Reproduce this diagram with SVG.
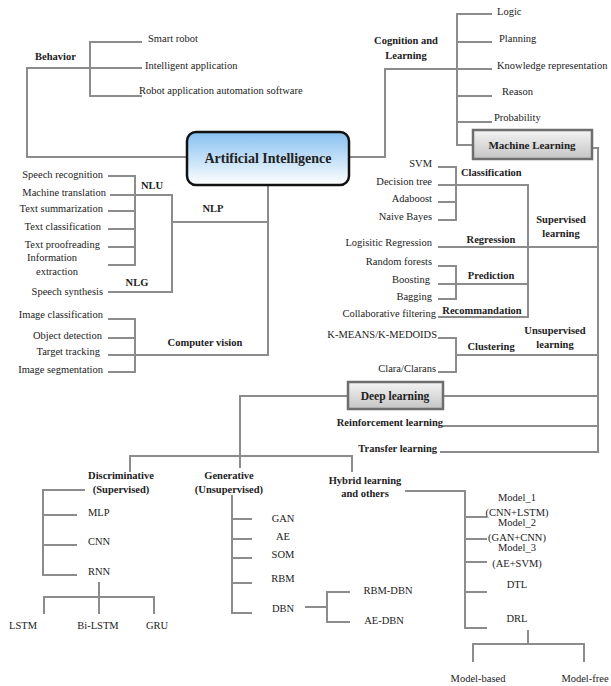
<svg xmlns="http://www.w3.org/2000/svg" width="611" height="686" viewBox="0 0 611 686">
<style>
text{font-family:"Liberation Serif","Times New Roman",serif;font-size:10.5px;fill:#222}
.b{font-weight:bold}
.m{text-anchor:middle}
.e{text-anchor:end}
.ln path{fill:none;stroke:#8c8c8c;stroke-width:2}
</style>
<defs>
<linearGradient id="ai" x1="0" y1="0" x2="0" y2="1">
<stop offset="0" stop-color="#86c0f0"/>
<stop offset="1" stop-color="#ffffff"/>
</linearGradient>
<linearGradient id="gb" x1="0" y1="0" x2="0" y2="1">
<stop offset="0" stop-color="#f4f4f4"/>
<stop offset="1" stop-color="#c4c4c4"/>
</linearGradient>
</defs>
<rect width="611" height="686" fill="#fff"/>
<g class="ln" id="connectors">
<path d="M187,157 H27 V68 H142"/>
<path d="M142,42 H90 V96 H142"/>
<path d="M349,157 H385 V69 H492"/>
<path d="M492,14 H457 V145 H475"/>
<path d="M457,42 H492 M457,96 H492 M457,122 H492"/>
<path d="M592,148 H598 V452 H440"/>
<path d="M438,247 H598"/>
<path d="M438,185 H528 V317 H438"/>
<path d="M438,284 H528"/>
<path d="M438,167 H456 V220 H438 M438,202 H456"/>
<path d="M438,266 H456 V299 H438"/>
<path d="M438,338 H456 V372 H438 M456,355 H598"/>
<path d="M443,396 H598"/>
<path d="M443,426 H598"/>
<path d="M348,396 H240 V468"/>
<path d="M130,472 V456 H352 V472"/>
<path d="M268,185 V355 H108"/>
<path d="M268,222 H172"/>
<path d="M110,195 H172 V292 H108"/>
<path d="M108,176 H135 V265 H108 M108,211 H135 M108,229 H135 M108,247 H135"/>
<path d="M108,319 H135 V372 H108 M108,338 H135"/>
<path d="M85,490 H43 V575 H77 M43,515 H77 M43,545 H77"/>
<path d="M99,582 V614 M44,614 V597 H154 V614"/>
<path d="M232,495 V613 H252 M232,519 H252 M232,539 H252 M232,558 H252 M232,583 H252"/>
<path d="M305,607 H327 M350,592 H327 V622 H350"/>
<path d="M405,491 H465 V628 H487 M465,517 H487 M465,539 H487 M465,562 H487 M465,592 H487"/>
<path d="M528,630 V644 M473,662 V644 H584 V662"/>
</g>
<g id="ai-node">
<rect x="187" y="132" width="162" height="53" rx="9" fill="url(#ai)" stroke="#111" stroke-width="2.5"/>
<text class="b m" x="268" y="163" style="font-size:14px">Artificial Intelligence</text>
</g>
<g id="behavior">
<text class="b" x="35" y="60">Behavior</text>
<text x="148" y="42">Smart robot</text>
<text x="145" y="69">Intelligent application</text>
<text x="139" y="94">Robot application automation software</text>
</g>
<g id="cognition">
<text class="b m" x="406" y="44">Cognition and</text>
<text class="b m" x="406" y="59">Learning</text>
<text x="497" y="15">Logic</text>
<text x="499" y="42">Planning</text>
<text x="497" y="69">Knowledge representation</text>
<text x="502" y="95">Reason</text>
<text x="494" y="121">Probability</text>
</g>
<g id="machine-learning">
<rect x="473" y="130" width="119" height="29" fill="url(#gb)" stroke="#6e6e6e" stroke-width="2.5"/>
<text class="b m" x="532" y="149" style="font-size:11px">Machine Learning</text>
</g>
<g id="supervised">
<text class="b m" x="561" y="223">Supervised</text>
<text class="b m" x="561" y="237">learning</text>
<text class="b" x="461" y="176">Classification</text>
<text class="e" x="432" y="167">SVM</text>
<text class="e" x="432" y="185">Decision tree</text>
<text class="e" x="432" y="202">Adaboost</text>
<text class="e" x="432" y="220">Naive Bayes</text>
<text class="b m" x="491" y="243">Regression</text>
<text class="e" x="432" y="246">Logisitic Regression</text>
<text class="b m" x="491" y="279">Prediction</text>
<text class="e" x="432" y="265">Random forests</text>
<text class="e" x="430" y="283">Boosting</text>
<text class="e" x="432" y="300">Bagging</text>
<text class="b m" x="482" y="314">Recommandation</text>
<text class="e" x="436" y="317">Collaborative filtering</text>
</g>
<g id="unsupervised">
<text class="b m" x="555" y="334">Unsupervised</text>
<text class="b m" x="555" y="348">learning</text>
<text class="b m" x="491" y="350">Clustering</text>
<text class="e" x="437" y="338">K-MEANS/K-MEDOIDS</text>
<text class="e" x="436" y="372">Clara/Clarans</text>
</g>
<g id="deep-learning">
<rect x="348" y="382" width="95" height="27" fill="url(#gb)" stroke="#6e6e6e" stroke-width="2.5"/>
<text class="b m" x="395" y="400" style="font-size:11.5px">Deep learning</text>
</g>
<g id="reinforcement">
<text class="b e" x="443" y="426">Reinforcement learning</text>
</g>
<g id="transfer">
<text class="b e" x="437" y="452">Transfer learning</text>
</g>
<g id="nlp">
<text class="b m" x="213" y="212">NLP</text>
<text class="b m" x="152" y="189">NLU</text>
<text class="b m" x="137" y="286">NLG</text>
<text class="e" x="103" y="178">Speech recognition</text>
<text class="e" x="106" y="196">Machine translation</text>
<text class="e" x="103" y="212">Text summarization</text>
<text class="e" x="101" y="230">Text classification</text>
<text class="e" x="100" y="248">Text proofreading</text>
<text class="m" x="52" y="261">Information</text>
<text class="m" x="57" y="275">extraction</text>
<text class="e" x="103" y="295">Speech synthesis</text>
</g>
<g id="computer-vision">
<text class="b m" x="205" y="346">Computer vision</text>
<text class="e" x="103" y="318">Image classification</text>
<text class="e" x="102" y="339">Object detection</text>
<text class="e" x="100" y="355">Target tracking</text>
<text class="e" x="103" y="373">Image segmentation</text>
</g>
<g id="discriminative">
<text class="b m" x="121" y="479">Discriminative</text>
<text class="b m" x="121" y="493">(Supervised)</text>
<text x="88" y="516">MLP</text>
<text x="88" y="545">CNN</text>
<text x="88" y="575">RNN</text>
<text class="m" x="23" y="629">LSTM</text>
<text class="m" x="98" y="629">Bi-LSTM</text>
<text class="m" x="157" y="629">GRU</text>
</g>
<g id="generative">
<text class="b m" x="229" y="479">Generative</text>
<text class="b m" x="229" y="493">(Unsupervised)</text>
<text class="m" x="283" y="522">GAN</text>
<text class="m" x="283" y="540">AE</text>
<text class="m" x="283" y="558">SOM</text>
<text class="m" x="283" y="582">RBM</text>
<text class="m" x="283" y="612">DBN</text>
<text class="m" x="388" y="594">RBM-DBN</text>
<text class="m" x="384" y="624">AE-DBN</text>
</g>
<g id="hybrid">
<text class="b m" x="365" y="484">Hybrid learning</text>
<text class="b m" x="365" y="497">and others</text>
<text class="m" x="517" y="501">Model_1</text>
<text class="m" x="517" y="516">(CNN+LSTM)</text>
<text class="m" x="517" y="526">Model_2</text>
<text class="m" x="517" y="541">(GAN+CNN)</text>
<text class="m" x="517" y="551">Model_3</text>
<text class="m" x="517" y="567">(AE+SVM)</text>
<text class="m" x="517" y="588">DTL</text>
<text class="m" x="517" y="622">DRL</text>
<text class="m" x="478" y="682">Model-based</text>
<text class="m" x="585" y="682">Model-free</text>
</g>
</svg>
